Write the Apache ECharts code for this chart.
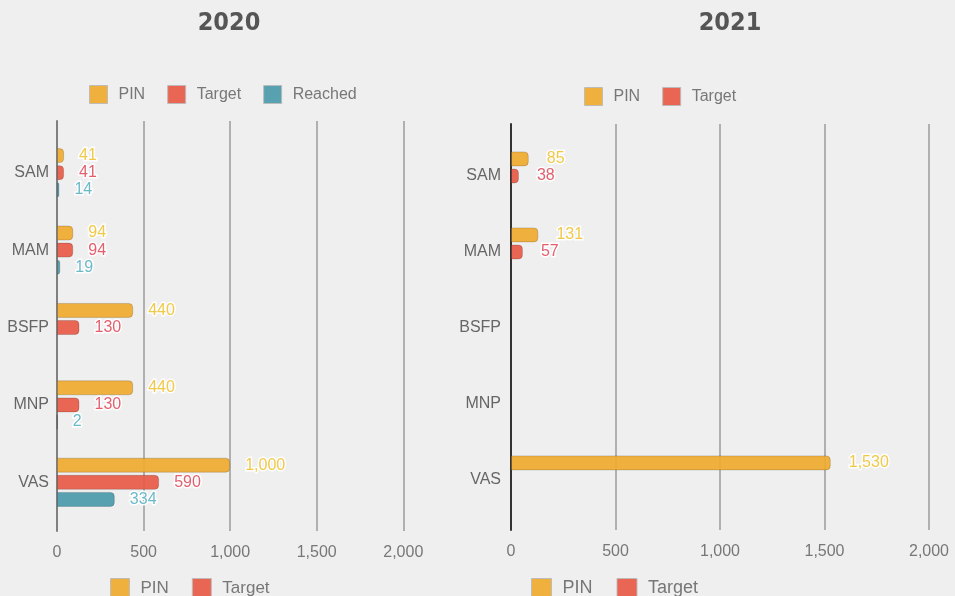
<!DOCTYPE html>
<html>
<head>
<meta charset="utf-8">
<script src="https://cdn.jsdelivr.net/npm/echarts@6/dist/echarts.min.js"></script>
<style>
html, body { margin: 0; padding: 0; background: #efefef; }
#chart { width: 955px; height: 596px; }
</style>
</head>
<body>
<div id="chart"></div>
<script>
const categories = ['SAM', 'MAM', 'BSFP', 'MNP', 'VAS']
const xTicks = [0, 500, 1000, 1500, 2000]

// 2020
const pin2020 = [41, 94, 440, 440, 1000]
const target2020 = [41, 94, 130, 130, 590]
const reached2020 = [14, 19, null, 2, 334]
// 2021
const pin2021 = [85, 131, null, null, 1530]
const target2021 = [38, 57, null, null, null]
const reached2021 = [null, null, null, null, null]

const colors = { PIN: '#f0aa2e', Target: '#e75a45', Reached: '#4a9aaa' }
const labelColors = { PIN: '#efc43a', Target: '#df5262', Reached: '#5fb3c4' }
const fmt = v => Number(v).toLocaleString('en-US')
const font = 'Liberation Sans, Arial, sans-serif'
const titleFont = 'Liberation Sans Narrow, DejaVu Sans Condensed, sans-serif'

const chart = echarts.init(document.getElementById('chart'))

const makeBar = (name, data, gi, dist) => ({
    name: name,
    type: 'bar',
    xAxisIndex: gi,
    yAxisIndex: gi,
    data: data,
    barWidth: 15,
    barGap: '14%',
    itemStyle: {
        color: colors[name],
        opacity: 0.92,
        borderRadius: [0, 4, 4, 0],
        borderColor: 'rgba(0,0,0,0.18)',
        borderWidth: 1
    },
    label: {
        show: true,
        position: 'right',
        distance: dist,
        fontFamily: font,
        fontSize: 16,
        color: labelColors[name],
        textBorderColor: '#fff',
        textBorderWidth: 3,
        formatter: p => fmt(p.value)
    }
})

const legendBase = (left, top, data, size, gap) => ({
    left: left,
    top: top,
    padding: 0,
    data: data,
    icon: 'rect',
    itemWidth: size + 2,
    itemHeight: size + 2,
    itemGap: gap,
    itemStyle: { borderColor: '#bbb', borderWidth: 1 },
    textStyle: { fontFamily: font, fontSize: size, color: '#777', padding: [0, 0, 0, 6] }
})

const option = {
    backgroundColor: '#efefef',
    animation: false,
    title: [
        { text: '2020', left: 224, top: 6, textAlign: 'center',
          textStyle: { fontFamily: titleFont, fontSize: 25, fontWeight: 'bold', color: '#555' } },
        { text: '2021', left: 725, top: 6, textAlign: 'center',
          textStyle: { fontFamily: titleFont, fontSize: 25, fontWeight: 'bold', color: '#555' } }
    ],
    legend: [
        legendBase(89, 85, ['PIN', 'Target', 'Reached'], 16, 22),
        legendBase(584, 87, ['PIN', 'Target'], 16, 22),
        legendBase(110, 578, ['PIN', 'Target'], 17, 23),
        legendBase(531, 578, ['PIN', 'Target'], 18, 24)
    ],
    grid: [
        // bars
        { left: 57, width: 346.3, top: 134, height: 387 },
        { left: 511, width: 418, top: 138, height: 380 },
        // frame: grid lines, zero line, value labels
        { left: 57, width: 346.3, top: 121, height: 410 },
        { left: 511, width: 418, top: 124, height: 406 }
    ],
    xAxis: [0, 1, 2, 3].map(i => ({
        gridIndex: i,
        type: 'value',
        min: xTicks[0],
        max: xTicks[xTicks.length - 1],
        interval: xTicks[1] - xTicks[0],
        show: i >= 2,
        axisLine: { show: false },
        axisTick: { show: false },
        splitLine: { show: i >= 2, lineStyle: { color: '#b0b0b0', width: 2 } },
        axisLabel: { margin: 14, fontFamily: font, fontSize: 16, color: '#777', formatter: v => fmt(v) }
    })),
    yAxis: [
        { gridIndex: 0, type: 'category', inverse: true, data: categories,
          axisLine: { show: false }, axisTick: { show: false },
          axisLabel: { margin: 8, fontFamily: font, fontSize: 16, color: '#666' } },
        { gridIndex: 1, type: 'category', inverse: true, data: categories,
          axisLine: { show: false }, axisTick: { show: false },
          axisLabel: { margin: 10, fontFamily: font, fontSize: 16, color: '#666' } },
        { gridIndex: 2, type: 'value', min: 0, max: 1, axisLabel: { show: false }, splitLine: { show: false },
          axisTick: { show: false }, axisLine: { show: true, lineStyle: { color: '#808080', width: 2 } } },
        { gridIndex: 3, type: 'value', min: 0, max: 1, axisLabel: { show: false }, splitLine: { show: false },
          axisTick: { show: false }, axisLine: { show: true, lineStyle: { color: '#333', width: 2 } } }
    ],
    series: [
        makeBar('PIN', pin2020, 0, 15),
        makeBar('Target', target2020, 0, 15),
        makeBar('Reached', reached2020, 0, 15),
        makeBar('PIN', pin2021, 1, 18),
        makeBar('Target', target2021, 1, 18),
        makeBar('Reached', reached2021, 1, 18)
    ]
}
chart.setOption(option)
</script>
</body>
</html>
